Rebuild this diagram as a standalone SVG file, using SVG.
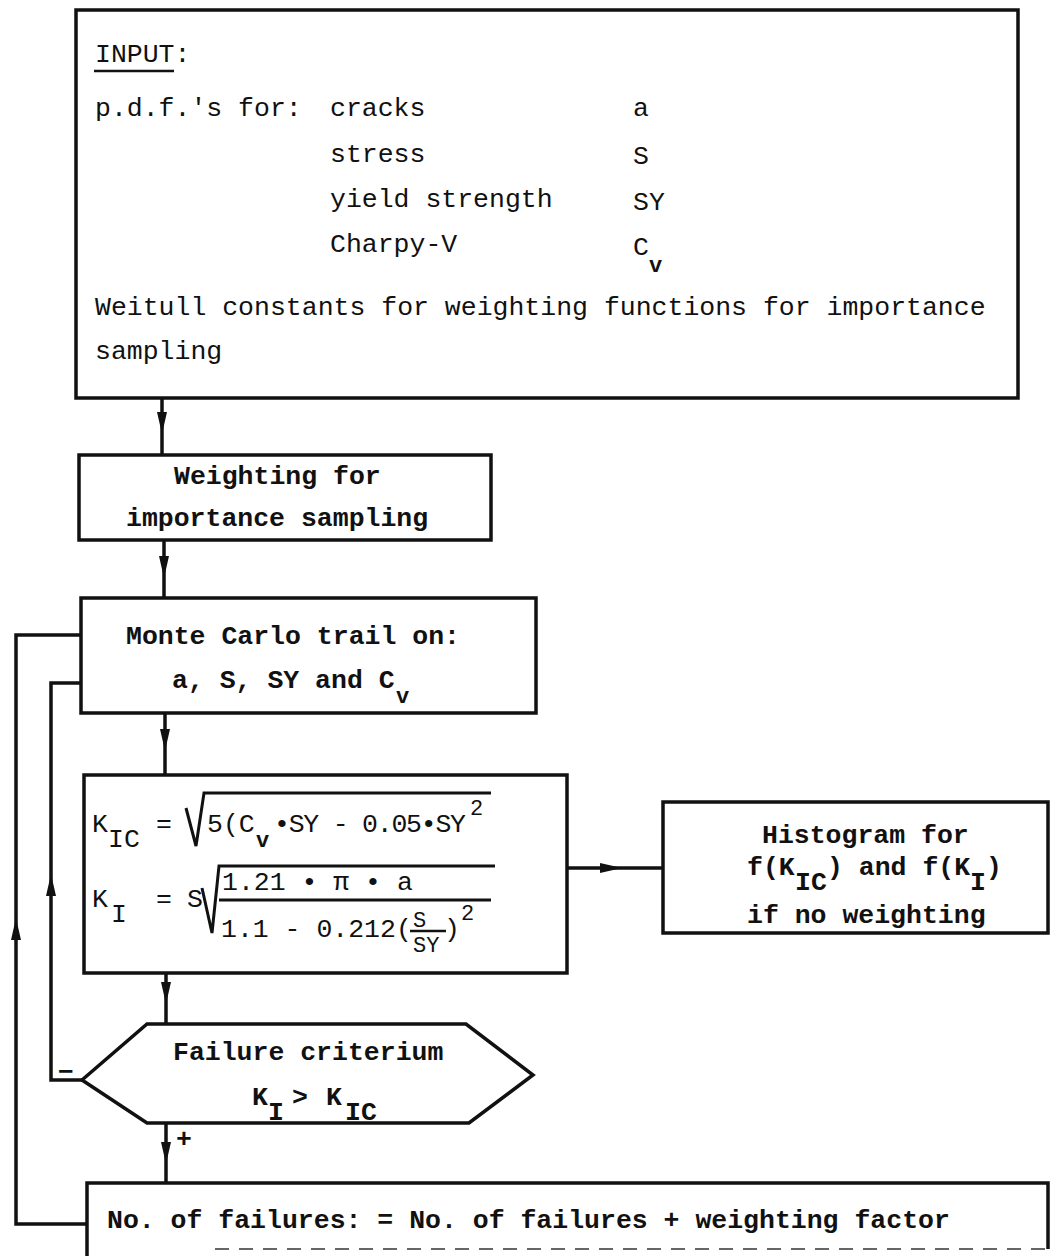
<svg xmlns="http://www.w3.org/2000/svg" xmlns:xlink="http://www.w3.org/1999/xlink" width="1051" height="1256" viewBox="0 0 1051 1256">
<style>
.box{fill:none;stroke:#111;stroke-width:3.5;stroke-linejoin:miter}
.conn{fill:none;stroke:#111;stroke-width:3.5}
.thin{fill:none;stroke:#111;stroke-width:3}
.t{font-family:"Liberation Mono","DejaVu Sans Mono",monospace;font-size:26.5px;fill:#111}
.b{font-weight:bold}
.s{font-size:22px}
.sup{font-size:22px}
</style>
<defs>
<path id="ah" d="M0,0 L-22,-5 L-22,5 Z" fill="#111"/>
</defs>
<rect width="1051" height="1256" fill="#fff"/>

<g id="connectors">
  <path class="conn" d="M162,398 L162,455"/>
  <use xlink:href="#ah" href="#ah" transform="translate(162,434) rotate(90)"/>
  <path class="conn" d="M164,540 L164,598"/>
  <use xlink:href="#ah" href="#ah" transform="translate(164,578) rotate(90)"/>
  <path class="conn" d="M165,713 L165,775"/>
  <use xlink:href="#ah" href="#ah" transform="translate(165,751) rotate(90)"/>
  <path class="conn" d="M166,973 L166,1024"/>
  <use xlink:href="#ah" href="#ah" transform="translate(166,1004) rotate(90)"/>
  <path class="conn" d="M166,1123 L166,1183"/>
  <use xlink:href="#ah" href="#ah" transform="translate(166,1164) rotate(90)"/>
  <path class="conn" d="M567,868 L663,868"/>
  <use xlink:href="#ah" href="#ah" transform="translate(622,868)"/>
  <path class="conn" d="M87,1224 L16,1224 L16,635 L81,635"/>
  <use xlink:href="#ah" href="#ah" transform="translate(16,918) rotate(-90)"/>
  <path class="conn" d="M82,1080 L51,1080 L51,683 L81,683"/>
  <use xlink:href="#ah" href="#ah" transform="translate(51,874) rotate(-90)"/>
  <text class="t b" x="58" y="1080" font-size="34">−</text>
  <text class="t b" x="176" y="1147">+</text>
</g>

<g id="input">
  <rect class="box" x="76" y="10" width="942" height="388"/>
  <text class="t" x="95" y="62">INPUT:</text>
  <line x1="94" y1="71" x2="174" y2="71" stroke="#111" stroke-width="2.5"/>
  <text class="t" x="95" y="116">p.d.f.'s for:</text>
  <text class="t" x="330" y="116">cracks</text>
  <text class="t" x="633" y="116">a</text>
  <text class="t" x="330" y="162">stress</text>
  <text class="t" x="633" y="164">S</text>
  <text class="t" x="330" y="207">yield strength</text>
  <text class="t" x="633" y="210">SY</text>
  <text class="t" x="330" y="252">Charpy-V</text>
  <text class="t" x="633" y="255">C</text>
  <text class="t b s" x="649" y="272">v</text>
  <text class="t" x="95" y="315">Weitull constants for weighting functions for importance</text>
  <text class="t" x="95" y="359">sampling</text>
</g>

<g id="weighting">
  <rect class="box" x="79" y="455" width="412" height="85"/>
  <text class="t b" x="174" y="484">Weighting for</text>
  <text class="t b" x="126" y="526">importance sampling</text>
</g>

<g id="montecarlo">
  <rect class="box" x="81" y="598" width="455" height="115"/>
  <text class="t b" x="126" y="644">Monte Carlo trail on:</text>
  <text class="t b" x="172" y="688">a, S, SY and C</text>
  <text class="t b s" x="396" y="703">v</text>
</g>

<g id="formula">
  <rect class="box" x="84" y="775" width="483" height="198"/>
  <text class="t" x="92" y="832">K</text>
  <text class="t" x="108" y="847">IC</text>
  <text class="t" x="156" y="832">=</text>
  <path class="thin" d="M186,808 L196,846 L204,793 L491,793"/>
  <text class="t" x="207" y="832">5(C</text>
  <text class="t b s" x="256" y="847">v</text>
  <text class="t" x="274" y="832" textLength="192" lengthAdjust="spacing">•SY - 0.05•SY</text>
  <text class="t sup" x="470" y="815">2</text>

  <text class="t" x="92" y="907">K</text>
  <text class="t" x="111" y="922">I</text>
  <text class="t" x="156" y="907">=</text>
  <text class="t" x="187" y="907">S</text>
  <path class="thin" d="M202,888 L212,933 L219,866 L495,866"/>
  <text class="t" x="222" y="890">1.21 • π • a</text>
  <line class="thin" x1="219" y1="900" x2="491" y2="900"/>
  <text class="t" x="221" y="937">1.1 - 0.212(</text>
  <text class="t s" x="413" y="927">S</text>
  <line x1="410" y1="931" x2="446" y2="931" stroke="#111" stroke-width="2.5"/>
  <text class="t s" x="413" y="952">SY</text>
  <text class="t" x="444" y="937">)</text>
  <text class="t sup" x="461" y="920">2</text>
</g>

<g id="histogram">
  <rect class="box" x="663" y="802" width="385" height="131"/>
  <text class="t b" x="762" y="843">Histogram for</text>
  <text class="t b" x="747" y="875">f(K</text>
  <text class="t b" x="795" y="890">IC</text>
  <text class="t b" x="827" y="875">) and f(K</text>
  <text class="t b" x="970" y="890">I</text>
  <text class="t b" x="986" y="875">)</text>
  <text class="t b" x="747" y="923">if no weighting</text>
</g>

<g id="criterion">
  <polygon class="box" points="147,1024 466,1024 533,1075 469,1123 147,1123 82,1080"/>
  <text class="t b" x="173" y="1060">Failure criterium</text>
  <text class="t b" x="252" y="1105">K</text>
  <text class="t b" x="268" y="1120">I</text>
  <text class="t b" x="292" y="1105">&gt;</text>
  <text class="t b" x="326" y="1105">K</text>
  <text class="t b" x="345" y="1120">IC</text>
</g>

<g id="failures">
  <path class="box" d="M87,1256 L87,1183 L1048,1183 L1048,1249"/>
  <line x1="215" y1="1249" x2="1048" y2="1249" stroke="#666" stroke-width="2" stroke-dasharray="14,10"/>
  <text class="t b" x="107" y="1228">No. of failures: = No. of failures + weighting factor</text>
</g>
</svg>
